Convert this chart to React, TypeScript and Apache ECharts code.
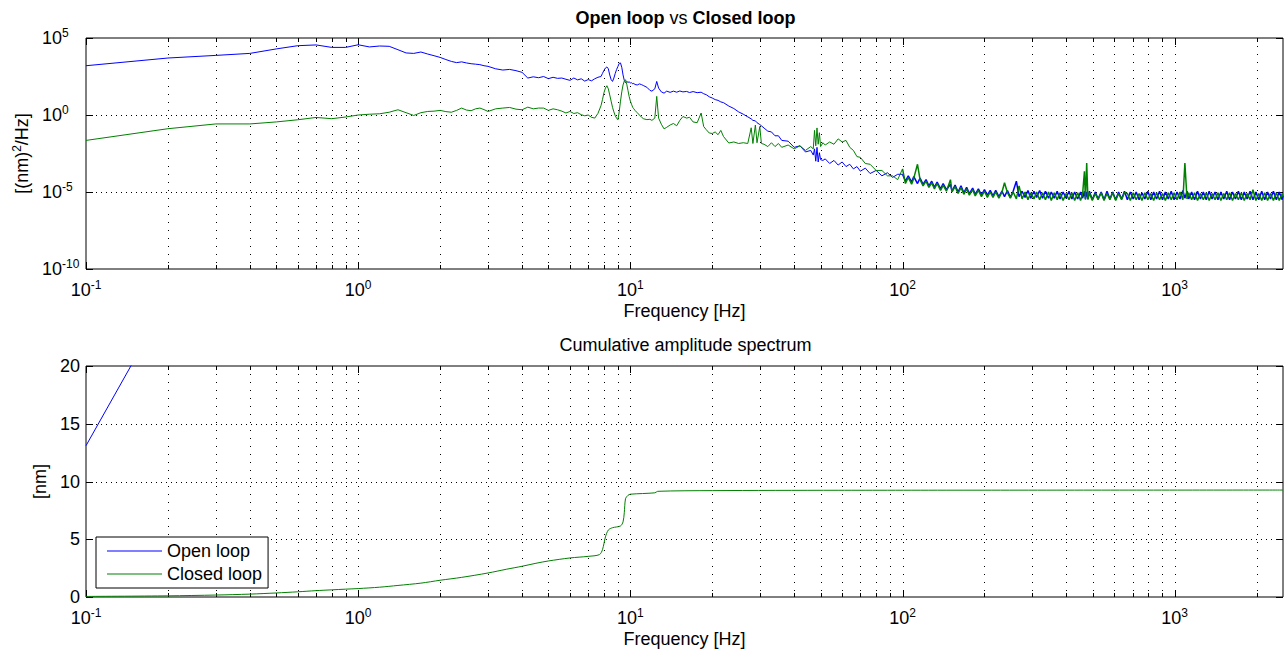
import React, { useEffect, useRef } from 'react';
import * as echarts from 'echarts';

const FONT = '"Liberation Sans", Arial, Helvetica, sans-serif';
const BLUE = '#0000ff';
const GREEN = '#008000';

// ---------- Top: power spectral density, values are log10 of PSD [(nm)^2/Hz] ----------
const freqA = [0.1, 0.2, 0.3, 0.4, 0.5, 0.6, 0.7, 0.8, 0.9, 1.0];
const openA = [3.2, 3.7, 3.87, 4.0, 4.29, 4.5, 4.55, 4.39, 4.39, 4.56];
const closedA = [-1.65, -0.89, -0.58, -0.58, -0.45, -0.31, -0.16, -0.24, -0.13, 0.0];

const freqB = [1.1, 1.2, 1.3, 1.4, 1.5, 1.6, 1.7, 1.8, 1.9, 2.0, 2.1, 2.2, 2.3, 2.4, 2.5, 2.6, 2.7, 2.8, 2.9, 3.0];
const openB = [4.42, 4.48, 4.46, 4.24, 4.03, 4.0, 4.09, 3.96, 3.85, 3.74, 3.6, 3.48, 3.4, 3.45, 3.38, 3.33, 3.3, 3.27, 3.2, 3.16];
const closedB = [0.05, 0.08, 0.18, 0.34, 0.15, -0.03, 0.15, 0.23, 0.25, 0.3, 0.22, 0.18, 0.3, 0.45, 0.32, 0.28, 0.4, 0.45, 0.35, 0.23];

const freqC = [3.2, 3.4, 3.6, 3.8, 4.0, 4.2, 4.4, 4.6, 4.8, 5.0, 5.2, 5.4, 5.6, 5.8, 6.0, 6.2, 6.4, 6.6, 6.8, 7.0, 7.2, 7.4, 7.6];
const openC = [3.0, 2.92, 2.96, 2.88, 2.77, 2.4, 2.48, 2.42, 2.5, 2.36, 2.45, 2.38, 2.4, 2.32, 2.25, 2.4, 2.28, 2.35, 2.2, 2.3, 2.22, 2.35, 2.45];
const closedC = [0.4, 0.45, 0.49, 0.38, 0.34, 0.51, 0.4, 0.45, 0.45, 0.3, 0.4, 0.34, 0.25, 0.13, 0.23, 0.1, 0.15, 0.02, -0.05, 0.0, -0.15, -0.2, 0.1];

const freqD = [7.8, 7.9, 8.0, 8.1, 8.2, 8.3, 8.4, 8.5, 8.6, 8.7, 8.8, 8.9, 9.0, 9.1, 9.2, 9.3, 9.4, 9.5, 9.6, 9.7, 9.8, 9.9, 10.0, 10.1, 10.2, 10.3, 10.4];
const openD = [2.5, 2.7, 2.9, 3.05, 3.12, 3.0, 2.6, 2.3, 2.18, 2.4, 2.7, 2.95, 3.15, 3.35, 3.38, 3.1, 2.6, 2.25, 2.1, 2.18, 2.12, 2.15, 2.08, 2.1, 2.02, 2.05, 1.98];
const closedD = [0.6, 1.0, 1.45, 1.75, 1.9, 1.7, 1.3, 0.9, 0.5, 0.2, -0.05, -0.2, -0.31, 0.2, 0.9, 1.5, 1.95, 2.2, 2.29, 2.0, 1.6, 1.2, 0.9, 0.7, 0.5, 0.4, 0.3];

const freqE = [10.6, 10.8, 11, 11.2, 11.5, 11.8, 12, 12.3, 12.5, 12.7, 13, 13.3, 13.6, 14, 14.4, 14.8, 15.2, 15.6, 16.1, 16.5, 17, 17.6, 18.2, 18.6, 19, 19.5, 20, 20.5, 21, 21.5, 22, 23, 24, 25, 26, 27, 27.8, 28.2, 28.8, 29.2, 29.9, 30.3];
const openE = [1.95, 2.02, 1.97, 1.9, 1.8, 1.6, 1.55, 1.7, 2.18, 1.75, 1.5, 1.42, 1.55, 1.47, 1.55, 1.48, 1.56, 1.5, 1.53, 1.46, 1.52, 1.45, 1.48, 1.38, 1.32, 1.18, 1.1, 1.0, 0.95, 0.85, 0.8, 0.58, 0.42, 0.2, 0.05, -0.12, -0.25, -0.35, -0.38, -0.5, -0.62, -0.7];
const closedE = [0.15, 0.0, -0.15, -0.25, -0.3, -0.28, -0.35, -0.2, 1.21, -0.2, -0.6, -0.9, -0.8, -0.65, -0.55, -0.7, -0.35, -0.1, -0.2, -0.15, -0.45, -0.5, 0.13, -0.75, -0.95, -1.17, -1.2, -1.1, -1.28, -1.0, -1.4, -1.82, -1.75, -1.85, -1.8, -1.85, -0.83, -1.85, -0.65, -1.8, -0.75, -1.85];

const freqF = [31, 32, 33, 34, 35, 36, 38, 40, 42, 44, 46, 47, 47.5, 48, 48.5, 49, 49.5, 50, 51, 52, 54, 56, 58, 60, 62, 64, 66, 68, 70, 73, 76, 80, 84, 88, 92, 96];
const openF = [-0.85, -1.05, -1.1, -1.35, -1.35, -1.65, -1.7, -2.1, -2.0, -2.4, -2.3, -2.6, -2.2, -3.0, -2.1, -3.05, -2.45, -2.9, -2.95, -2.85, -3.15, -2.95, -3.25, -3.05, -3.35, -3.2, -3.5, -3.35, -3.65, -3.45, -3.8, -3.6, -3.95, -3.75, -4.05, -3.85];
const closedF = [-1.9, -2.05, -1.8, -2.05, -1.85, -2.1, -1.95, -2.2, -2.0, -2.3, -2.05, -2.2, -1.0, -2.0, -0.84, -1.9, -1.15, -2.05, -1.8, -1.95, -1.75, -1.9, -1.55, -1.75, -1.65, -2.1, -2.3, -2.7, -2.75, -3.15, -3.2, -3.6, -3.6, -3.95, -3.95, -4.2];

// noise floor region, 100 Hz .. 2.5 kHz
const freqG = [
  100, 102.5, 105, 108, 110, 113.5, 116, 119, 122, 125, 128, 131, 134, 138, 141, 145, 150, 152, 156, 160,
  164, 168, 172, 176, 181, 185, 190, 195, 200, 205, 210, 215, 220, 226, 232, 237, 243, 249, 255, 262,
  268, 275, 282, 289, 296, 304, 311, 319, 327, 335, 344, 352, 361, 370, 379, 389, 399, 409, 419, 429,
  440, 451, 459, 466, 470, 475, 480, 486, 498, 511, 523, 537, 550, 564, 578, 592, 607, 622, 638, 654,
  670, 687, 704, 722, 740, 758, 777, 797, 817, 837, 858, 880, 902, 924, 947, 971, 995, 1020, 1046, 1072,
  1090, 1110, 1126, 1154, 1183, 1213, 1243, 1274, 1306, 1339, 1372, 1407, 1442, 1478, 1515, 1553, 1591, 1631, 1672, 1714,
  1757, 1801, 1846, 1892, 1939, 1988, 2037, 2088, 2141, 2194, 2249, 2305, 2363, 2422, 2483, 2500,
];
const openG = [
  -3.85, -4.3, -3.95, -4.35, -4.0, -4.45, -4.1, -4.5, -4.2, -4.6, -4.3, -4.7, -4.35, -4.8, -4.45, -4.85, -4.5, -4.95, -4.55, -5.0,
  -4.6, -5.05, -4.7, -5.1, -4.75, -5.15, -4.8, -5.2, -4.85, -5.2, -4.9, -5.25, -4.9, -5.3, -4.95, -5.3, -4.9, -5.35, -4.95, -4.3,
  -5.3, -4.95, -5.35, -4.9, -5.4, -4.95, -5.35, -4.9, -5.4, -4.95, -5.4, -5.0, -5.4, -4.95, -5.45, -5.0, -5.4, -4.95, -5.45, -5.0,
  -5.45, -5.0, -5.4, -4.95, -5.45, -5.0, -5.45, -4.95, -5.5, -5.0, -5.45, -5.0, -5.5, -4.95, -5.45, -5.0, -5.5, -5.0, -5.45, -4.95,
  -5.5, -5.0, -5.45, -5.0, -5.5, -5.05, -5.45, -4.95, -5.5, -5.0, -5.45, -4.95, -5.5, -5.0, -5.45, -4.95, -5.5, -5.0, -5.45, -4.9,
  -5.4, -4.95, -5.45, -5.0, -5.5, -4.95, -5.45, -5.0, -5.5, -4.95, -5.45, -5.0, -5.5, -5.0, -5.45, -4.95, -5.5, -5.0, -5.45, -4.95,
  -5.5, -5.0, -5.45, -4.95, -5.5, -5.0, -5.5, -4.95, -5.5, -5.0, -5.45, -4.95, -5.5, -5.0, -5.5, -5.25,
];
const closedG = [
  -3.5, -4.45, -4.05, -4.5, -4.1, -3.2, -4.2, -4.6, -4.3, -4.7, -4.4, -4.8, -4.45, -4.9, -4.55, -4.95, -4.2, -5.0, -4.65, -5.1,
  -4.7, -5.15, -4.8, -5.2, -4.85, -5.25, -4.9, -5.3, -4.95, -5.35, -5.0, -5.35, -5.0, -5.4, -5.0, -4.4, -5.05, -5.4, -5.0, -5.45,
  -4.6, -5.45, -5.0, -5.5, -5.05, -5.45, -5.0, -5.5, -5.05, -5.5, -5.0, -5.55, -5.05, -5.5, -5.05, -5.55, -5.1, -5.5, -5.05, -5.55,
  -5.05, -5.55, -5.1, -3.65, -5.5, -3.12, -5.5, -5.05, -5.55, -5.1, -5.5, -5.05, -5.55, -5.1, -5.5, -5.05, -5.55, -5.1, -5.5, -5.05,
  -5.1, -5.55, -5.05, -5.5, -5.1, -5.55, -5.05, -5.5, -5.1, -5.55, -5.05, -5.5, -5.1, -5.55, -5.05, -5.5, -5.05, -5.5, -5.0, -5.5,
  -3.12, -5.45, -5.05, -5.5, -5.05, -5.55, -5.1, -5.5, -5.05, -5.55, -5.1, -5.5, -5.05, -5.55, -5.1, -5.5, -5.05, -5.55, -5.1, -5.5,
  -5.05, -5.55, -5.1, -5.5, -4.85, -5.55, -5.1, -5.55, -5.05, -5.55, -5.1, -5.55, -5.05, -5.55, -5.1, -5.3,
];

const freqLow = [...freqA, ...freqB, ...freqC, ...freqD, ...freqE, ...freqF];
const openLow = [...openA, ...openB, ...openC, ...openD, ...openE, ...openF];
const closedLow = [...closedA, ...closedB, ...closedC, ...closedD, ...closedE, ...closedF];

// ---------- Bottom: cumulative amplitude spectrum [nm] ----------
const openCumFreq = [0.1, 0.2, 0.3, 0.4, 0.5, 0.6, 0.7, 0.8, 0.9, 1.0];
const openCumNm = [13.1, 25.7, 37.4, 49, 66, 87, 105, 116, 126, 140];
const closedCumFreq = [0.1, 0.2, 0.3, 0.4, 0.5, 0.6, 0.7, 0.8, 0.9, 1.0, 1.2, 1.4, 1.7, 2.0, 2.4, 3.0, 3.5, 4.0, 4.5, 5.0, 6.0, 7.0, 7.7, 7.9, 8.1, 8.3, 8.6, 9.2, 9.4, 9.5, 9.6, 9.8, 10.0, 12.3, 12.6, 20, 58, 2500];
const closedCumNm = [0.05, 0.1, 0.17, 0.25, 0.35, 0.45, 0.55, 0.62, 0.68, 0.73, 0.85, 1.0, 1.2, 1.45, 1.7, 2.08, 2.4, 2.66, 2.92, 3.12, 3.38, 3.52, 3.67, 4.1, 5.2, 5.8, 6.0, 6.15, 6.5, 7.3, 8.5, 8.8, 8.9, 9.02, 9.15, 9.21, 9.24, 9.26];

// ---------- Axis ticks ----------
const xGridTicks = [
  0.1, 0.2, 0.3, 0.4, 0.5, 0.6, 0.7, 0.8, 0.9,
  1, 2, 3, 4, 5, 6, 7, 8, 9,
  10, 20, 30, 40, 50, 60, 70, 80, 90,
  100, 200, 300, 400, 500, 600, 700, 800, 900,
  1000, 2000,
];
const topYTicks = [-10, -5, 0, 5];
const bottomYTicks = [0, 5, 10, 15, 20];

const isDecade = (f: number) => Math.abs(Math.log10(f) - Math.round(Math.log10(f))) < 1e-6;

const xGridSeries = (idx: number, yRef: number) => ({
  type: 'custom',
  xAxisIndex: idx,
  yAxisIndex: idx,
  silent: true,
  z: 1,
  data: xGridTicks.map((f) => [f, yRef]),
  renderItem: (params: any, api: any) => {
    const f = api.value(0);
    const p = api.coord([f, yRef]);
    const cs = params.coordSys;
    const x = Math.round(p[0]) + 0.5;
    const top = cs.y;
    const bottom = cs.y + cs.height;
    const len = isDecade(f) ? 7 : 4;
    const children: any[] = [];
    if (p[0] > cs.x + 1 && p[0] < cs.x + cs.width - 1) {
      children.push({
        type: 'line',
        shape: { x1: x, y1: top, x2: x, y2: bottom },
        style: { stroke: '#000', lineWidth: 1, lineDash: [1, 7] },
      });
    }
    children.push({ type: 'line', shape: { x1: x, y1: top, x2: x, y2: top + len }, style: { stroke: '#000', lineWidth: 1 } });
    children.push({ type: 'line', shape: { x1: x, y1: bottom, x2: x, y2: bottom - len }, style: { stroke: '#000', lineWidth: 1 } });
    return { type: 'group', children };
  },
});

const yGridSeries = (idx: number, ticks: number[]) => ({
  type: 'custom',
  xAxisIndex: idx,
  yAxisIndex: idx,
  silent: true,
  z: 1,
  data: ticks.map((v) => [1, v]),
  renderItem: (params: any, api: any) => {
    const v = api.value(1);
    const p = api.coord([1, v]);
    const cs = params.coordSys;
    const y = Math.round(p[1]) + 0.5;
    const left = cs.x;
    const right = cs.x + cs.width;
    const len = 7;
    const children: any[] = [];
    if (p[1] > cs.y + 1 && p[1] < cs.y + cs.height - 1) {
      children.push({
        type: 'line',
        shape: { x1: left, y1: y, x2: right, y2: y },
        style: { stroke: '#000', lineWidth: 1, lineDash: [1, 4] },
      });
    }
    children.push({ type: 'line', shape: { x1: left, y1: y, x2: left + len, y2: y }, style: { stroke: '#000', lineWidth: 1 } });
    children.push({ type: 'line', shape: { x1: right, y1: y, x2: right - len, y2: y }, style: { stroke: '#000', lineWidth: 1 } });
    return { type: 'group', children };
  },
});

const powRich = {
  b: { fontSize: 18, fontFamily: FONT, color: '#000' },
  s: { fontSize: 12, fontFamily: FONT, color: '#000', padding: [0, 0, 10, 0] },
};

const xAxisCfg = (idx: number) => ({
  type: 'log',
  logBase: 10,
  gridIndex: idx,
  min: 0.1,
  max: 2500,
  axisLine: { show: false },
  axisTick: { show: false },
  splitLine: { show: false },
  minorTick: { show: false },
  minorSplitLine: { show: false },
  axisLabel: {
    margin: 10,
    color: '#000',
    fontFamily: FONT,
    fontSize: 18,
    hideOverlap: false,
    formatter: (v: number) => (isDecade(v) ? `{b|10}{s|${Math.round(Math.log10(v))}}` : ''),
    rich: powRich,
  },
  name: 'Frequency [Hz]',
  nameLocation: 'middle',
  nameGap: 33,
  nameTextStyle: { fontSize: 18, color: '#000', fontFamily: FONT },
});

const psdLine = (name: string, color: string, z: number, width: number, f: number[], v: number[]) => ({
  name,
  type: 'line',
  xAxisIndex: 0,
  yAxisIndex: 0,
  symbol: 'none',
  showSymbol: false,
  z,
  lineStyle: { color, width },
  itemStyle: { color },
  data: f.map((x, i) => [x, v[i]]),
});

const option: any = {
  animation: false,
  backgroundColor: '#fff',
  textStyle: { fontFamily: FONT },
  grid: [
    { left: 86, top: 38, width: 1199, height: 231, show: true, borderColor: '#000', borderWidth: 1, backgroundColor: 'transparent' },
    { left: 86, top: 366, width: 1199, height: 231, show: true, borderColor: '#000', borderWidth: 1, backgroundColor: 'transparent' },
  ],
  xAxis: [xAxisCfg(0), xAxisCfg(1)],
  yAxis: [
    {
      type: 'value',
      gridIndex: 0,
      min: -10,
      max: 5,
      interval: 5,
      axisLine: { show: false },
      axisTick: { show: false },
      splitLine: { show: false },
      axisLabel: {
        align: 'left',
        margin: 44,
        color: '#000',
        formatter: (v: number) => `{b|10}{s|${v}}`,
        rich: powRich,
      },
      name: '[(nm){s|2}/Hz]',
      nameLocation: 'middle',
      nameGap: 49,
      nameTextStyle: {
        fontSize: 18,
        color: '#000',
        fontFamily: FONT,
        rich: { s: { fontSize: 12, fontFamily: FONT, color: '#000', padding: [0, 0, 10, 0] } },
      },
    },
    {
      type: 'value',
      gridIndex: 1,
      min: 0,
      max: 20,
      interval: 5,
      axisLine: { show: false },
      axisTick: { show: false },
      splitLine: { show: false },
      axisLabel: { margin: 6, color: '#000', fontSize: 18, fontFamily: FONT },
      name: '[nm]',
      nameLocation: 'middle',
      nameGap: 34,
      nameTextStyle: { fontSize: 18, color: '#000', fontFamily: FONT },
    },
  ],
  legend: {
    data: [
      { name: 'Open loop', icon: 'rect', itemStyle: { color: BLUE } },
      { name: 'Closed loop', icon: 'rect', itemStyle: { color: GREEN } },
    ],
    orient: 'vertical',
    left: 96,
    top: 537,
    itemWidth: 55,
    itemHeight: 1,
    itemGap: 3,
    padding: [4, 6, 4, 11],
    borderColor: '#000',
    borderWidth: 1,
    backgroundColor: '#fff',
    selectedMode: false,
    textStyle: { fontSize: 18, color: '#000', fontFamily: FONT, lineHeight: 20 },
    z: 10,
  },
  graphic: [
    {
      type: 'text',
      x: 685.5,
      y: 18,
      style: {
        text: '{b|Open loop} vs {b|Closed loop}',
        align: 'center',
        verticalAlign: 'middle',
        fontSize: 18,
        fontFamily: FONT,
        fill: '#000',
        rich: { b: { fontSize: 18, fontWeight: 'bold', fontFamily: FONT, fill: '#000' } },
      },
    },
    {
      type: 'text',
      x: 685.5,
      y: 345,
      style: {
        text: 'Cumulative amplitude spectrum',
        align: 'center',
        verticalAlign: 'middle',
        fontSize: 18,
        fontFamily: FONT,
        fill: '#000',
      },
    },
  ],
  series: [
    xGridSeries(0, 0),
    yGridSeries(0, topYTicks),
    xGridSeries(1, 0),
    yGridSeries(1, bottomYTicks),
    psdLine('Open loop', BLUE, 3, 1, [...freqLow, freqG[0]], [...openLow, openG[0]]),
    psdLine('Open loop', BLUE, 3, 1.5, freqG, openG),
    psdLine('Closed loop', GREEN, 4, 1, [...freqLow, freqG[0]], [...closedLow, closedG[0]]),
    psdLine('Closed loop', GREEN, 4, 1.5, freqG, closedG),
    {
      name: 'Open loop',
      type: 'line',
      xAxisIndex: 1,
      yAxisIndex: 1,
      symbol: 'none',
      showSymbol: false,
      z: 3,
      lineStyle: { color: BLUE, width: 1 },
      itemStyle: { color: BLUE },
      data: openCumFreq.map((f, i) => [f, openCumNm[i]]),
    },
    {
      name: 'Closed loop',
      type: 'line',
      xAxisIndex: 1,
      yAxisIndex: 1,
      symbol: 'none',
      showSymbol: false,
      smooth: 0.3,
      z: 4,
      lineStyle: { color: GREEN, width: 1 },
      itemStyle: { color: GREEN },
      data: closedCumFreq.map((f, i) => [f, closedCumNm[i]]),
    },
  ],
};

export default function App() {
  const ref = useRef<HTMLDivElement>(null);
  useEffect(() => {
    if (!ref.current) return;
    const chart = echarts.init(ref.current, null, { renderer: 'svg' });
    chart.setOption(option);
    return () => chart.dispose();
  }, []);
  return <div ref={ref} style={{ position: 'absolute', left: 0, top: 0, width: 1286, height: 650 }} />;
}
